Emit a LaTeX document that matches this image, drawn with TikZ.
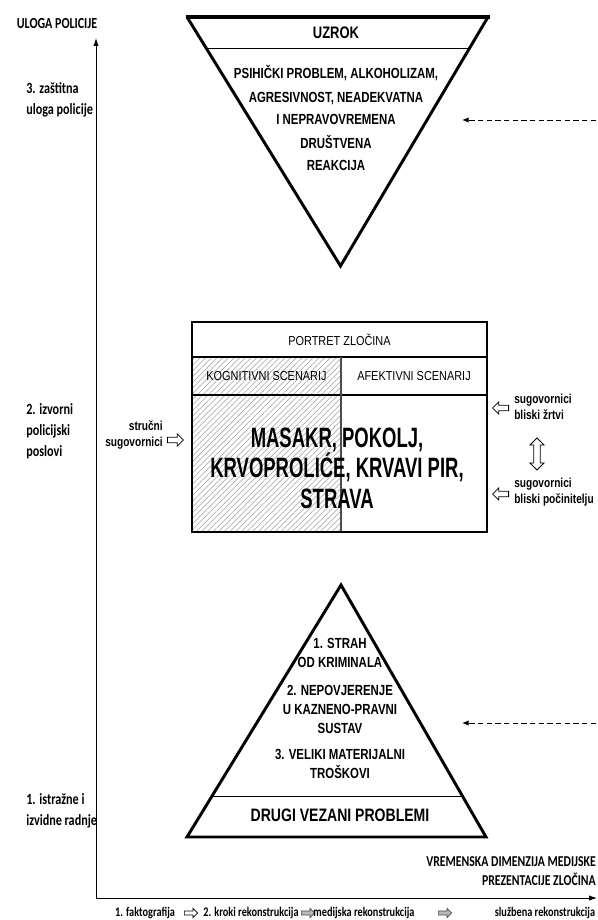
\documentclass[tikz,border=0pt]{standalone}
\usepackage{fontspec}
\setmainfont{Liberation Sans}
\newfontfamily\nar[FakeStretch=0.78]{Liberation Sans}
\newfontfamily\narr[FakeStretch=0.66]{Liberation Sans}
\newfontfamily\narh[FakeStretch=0.84]{Liberation Sans}
\newfontfamily\carl[FakeStretch=0.78]{Carlito}
\usetikzlibrary{shapes.arrows,patterns.meta,arrows.meta,calc}
\begin{document}
\begin{tikzpicture}[x=0.75pt,y=-0.75pt,
  shape line/.style={line width=2.2pt,line join=miter},
  thin line/.style={line width=0.8pt},
  axislbl/.style={font=\carl\bfseries\fontsize{11.7}{15.8}\selectfont,align=left,anchor=west,inner sep=0pt},
  intext/.style={font=\nar\bfseries\fontsize{11}{17.25}\selectfont,align=center,inner sep=0pt},
  pyrtext/.style={font=\nar\bfseries\fontsize{11}{14.25}\selectfont,align=center,inner sep=0pt},
  sidelbl/.style={font=\nar\bfseries\fontsize{9.75}{12}\selectfont,inner sep=0pt},
  hdr/.style={font=\narh\fontsize{9.75}{12}\selectfont,inner sep=0pt},
  botlbl/.style={font=\carl\bfseries\fontsize{9.9}{12}\selectfont,inner sep=0pt},
  openarrow/.style={draw,line width=0.6pt,single arrow,minimum height=12pt,minimum width=9pt,inner sep=1.8pt,single arrow head extend=2.5pt},
  smallarrow/.style={draw,line width=0.5pt,single arrow,minimum height=10pt,minimum width=7pt,inner sep=1.3pt,single arrow head extend=2pt},
  dasharrow/.style={line width=0.7pt,dash pattern=on 4pt off 2.5pt,-{Latex[length=5pt,width=4pt]}},
  axisarrow/.style={line width=0.7pt,-{Latex[length=6pt,width=4pt]}}
]
\useasboundingbox (0,0) rectangle (598,920);

% axes
\coordinate (O) at (96,898);
\coordinate (Ytip) at (96,38);
\coordinate (Xtip) at (597,898);
\draw[axisarrow] (O) -- (Ytip);
\draw[axisarrow] (O) -- (Xtip);

\node[font=\carl\bfseries\fontsize{11.5}{14}\selectfont,inner sep=0pt] (uloga) at (57,24) {ULOGA POLICIJE};
\node[axislbl] (lbl3) at (26,100) {3. zaštitna\\uloga policije};
\node[axislbl] (lbl2) at (26,431) {2. izvorni\\policijski\\poslovi};
\node[axislbl] (lbl1) at (26,811) {1. istražne i\\izvidne radnje};

\node[font=\carl\bfseries\fontsize{11.3}{14.25}\selectfont,align=right,anchor=east,inner sep=0pt] (vrem) at (596,871) {VREMENSKA DIMENZIJA MEDIJSKE\\PREZENTACIJE ZLOČINA};

% top inverted triangle
\coordinate (T1) at (187,17);
\coordinate (T2) at (488,17);
\coordinate (T3) at (340.5,266);
\draw[shape line] (T1) -- (T3) -- (T2);
\draw[line width=3.2pt] ($(T1)+(-1.5,0)$) -- ($(T2)+(1.5,0)$);
\draw[thin line] ($(T1)!0.128!(T3)$) -- ($(T2)!0.128!(T3)$);
\node[font=\nar\bfseries\fontsize{12.5}{14}\selectfont,inner sep=0pt] (uzrok) at (336,33) {UZROK};
\node[intext] (cause) at (336,118.5) {PSIHIČKI PROBLEM, ALKOHOLIZAM,\\AGRESIVNOST, NEADEKVATNA\\I NEPRAVOVREMENA\\DRUŠTVENA\\REAKCIJA};

% middle box
\coordinate (M1) at (192,322);
\coordinate (M2) at (487,532);
\fill[pattern={Lines[angle=45,distance=3pt,line width=0.4pt]},pattern color=gray!75] (192,357) rectangle (341,532);
\draw[thin line] (192,357) -- (487,357);
\draw[thin line] (192,395) -- (487,395);
\draw[thin line,draw=gray!60!black] (341,357) -- (341,532);
\draw[shape line] (M1) rectangle (M2);
\node[hdr] (portret) at (339.5,339.5) {PORTRET ZLOČINA};
\node[hdr] (kog) at (266.5,376) {KOGNITIVNI SCENARIJ};
\node[hdr] (afek) at (414,376) {AFEKTIVNI SCENARIJ};
\node[font=\narr\bfseries\fontsize{21}{22.9}\selectfont,align=center,inner sep=0pt] (big) at (337,468) {MASAKR, POKOLJ,\\KRVOPROLIĆE, KRVAVI PIR,\\STRAVA};

% side labels and block arrows
\node[sidelbl,align=right,anchor=east] (strucni) at (163,435) {stručni\\sugovornici};
\node[openarrow] (a0) at (174,440) {};
\node[sidelbl,align=left,anchor=west] (zrtvi) at (514,407) {sugovornici\\bliski žrtvi};
\node[openarrow,shape border rotate=180] (az) at (502,408) {};
\node[sidelbl,align=left,anchor=west] (pocin) at (514,492) {sugovornici\\bliski počinitelju};
\node[openarrow,shape border rotate=180] (ap) at (502,494) {};
\node[draw,line width=0.6pt,double arrow,shape border rotate=90,minimum height=24pt,minimum width=10.5pt,inner sep=1.8pt,double arrow head extend=2.5pt] (dbl) at (537,454) {};

% bottom pyramid
\coordinate (B1) at (187,837);
\coordinate (B2) at (486,837);
\coordinate (B3) at (341,585);
\draw[shape line] (B1) -- (B3) -- (B2) -- cycle;
\draw[thin line] ($(B1)!0.16!(B3)$) -- ($(B2)!0.16!(B3)$);
\node[pyrtext] (g1) at (340,652.5) {1. STRAH\\OD KRIMINALA};
\node[pyrtext] (g2) at (340,709) {2. NEPOVJERENJE\\U KAZNENO-PRAVNI\\SUSTAV};
\node[pyrtext] (g3) at (340,764) {3. VELIKI MATERIJALNI\\TROŠKOVI};
\node[font=\nar\bfseries\fontsize{13.5}{16}\selectfont,inner sep=0pt] (drugi) at (340,815) {DRUGI VEZANI PROBLEMI};

% dashed arrows
\coordinate (D1s) at (596,120);
\coordinate (D1e) at (462,120);
\coordinate (D2s) at (596,723);
\coordinate (D2e) at (462,723);
\draw[dasharrow] (D1s) -- (D1e);
\draw[dasharrow] (D2s) -- (D2e);

% bottom row
\node[botlbl] (fakto) at (145,913) {1. faktografija};
\node[smallarrow] (b1) at (190,913) {};
\node[botlbl] (kroki) at (251,913) {2. kroki rekonstrukcija};
\node[smallarrow,fill=gray!55,draw=gray!60!black] (b2) at (307,913) {};
\node[botlbl] (medij) at (364,913) {medijska rekonstrukcija};
\node[smallarrow,fill=gray!55,draw=gray!60!black] (b3) at (444,913) {};
\node[botlbl] (sluz) at (545,913) {službena rekonstrukcija};
\end{tikzpicture}
\end{document}
